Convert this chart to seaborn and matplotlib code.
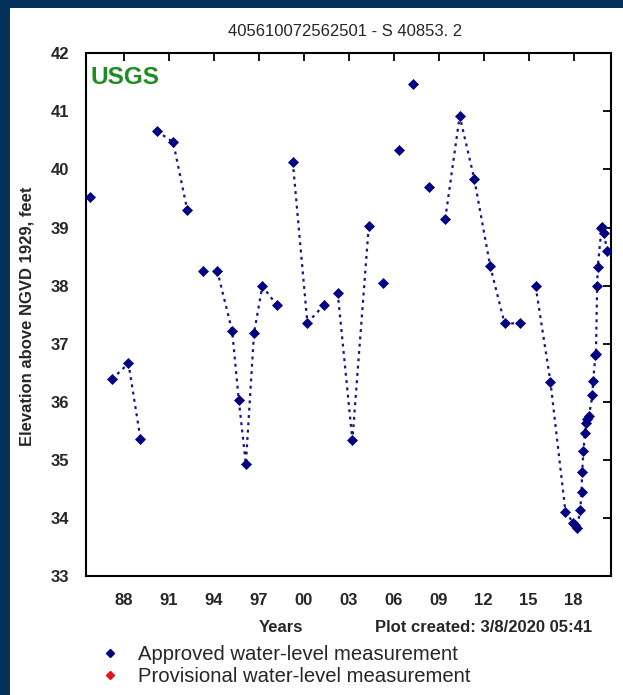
import pandas as pd
import matplotlib
matplotlib.use("Agg")
import matplotlib.pyplot as plt
from matplotlib.patches import Rectangle
from matplotlib.lines import Line2D
import seaborn as sns

# ------------------------------
# Data read off the hydrograph
# ------------------------------
years = [1985.74, 1987.23, 1988.33, 1989.13, 1990.22, 1991.31, 1992.24, 1993.31,
         1994.24, 1995.24, 1995.68, 1996.15, 1996.70, 1997.25, 1998.23,
         1999.28, 2000.25, 2001.34, 2002.27, 2003.25, 2004.34,
         2005.27, 2006.33, 2007.31, 2008.35,
         2009.44, 2010.40, 2011.37, 2012.43, 2013.39, 2014.43,
         2015.46, 2016.45, 2017.45, 2017.96, 2018.07, 2018.23, 2018.43, 2018.52,
         2018.56, 2018.65, 2018.74, 2018.83, 2018.90, 2019.02, 2019.25, 2019.29,
         2019.45, 2019.48, 2019.56, 2019.60, 2019.85, 2019.89, 2020.00, 2020.24]
levels = [39.53, 36.39, 36.66, 35.36, 40.66, 40.47, 39.31, 38.26,
          38.26, 37.22, 36.03, 34.93, 37.19, 37.99, 37.66,
          40.13, 37.36, 37.66, 37.88, 35.34, 39.02,
          38.04, 40.33, 41.47, 39.70,
          39.15, 40.92, 39.84, 38.34, 37.35, 37.35,
          37.99, 36.34, 34.10, 33.92, 33.88, 33.83, 34.13, 34.45,
          34.79, 35.16, 35.46, 35.64, 35.70, 35.76, 36.12, 36.36,
          36.80, 36.82, 37.99, 38.32, 38.99, 39.01, 38.90, 38.60]
# runs of measurements joined by the dotted line
segment = [0, 1, 1, 1, 2, 2, 2, 3,
           4, 4, 4, 4, 4, 4, 4,
           5, 5, 5, 6, 6, 6,
           7, 8, 9, 10,
           11, 11, 11, 11, 11, 11,
           12, 12, 12, 12, 12, 12, 12, 12,
           12, 12, 12, 12, 12, 12, 12, 12,
           12, 12, 12, 12, 12, 12, 12, 12]

tick_years = [1988, 1991, 1994, 1997, 2000, 2003, 2006, 2009, 2012, 2015, 2018]
tick_labels = ["88", "91", "94", "97", "00", "03", "06", "09", "12", "15", "18"]
y_ticks = [33, 34, 35, 36, 37, 38, 39, 40, 41, 42]

df = pd.DataFrame({"year": years, "level": levels, "segment": segment})

navy = "#000080"
line_col = "#14148f"

# ------------------------------
# Style
# ------------------------------
sns.set_style("white")
plt.rcParams["font.family"] = ["Liberation Sans", "DejaVu Sans"]

fig = plt.figure(figsize=(6.23, 6.95), dpi=100)
fig.patch.set_facecolor("#04305a")
fig.patches.append(Rectangle((10 / 623, 0), 1, 1 - 8 / 695, transform=fig.transFigure,
                             facecolor="white", edgecolor="none", zorder=-10))

ax = fig.add_axes([86 / 623, 1 - 576 / 695, 524.5 / 623, 522.7 / 695])
ax.set_zorder(2)
ax.set_facecolor("white")

sns.lineplot(data=df, x="year", y="level", units="segment", estimator=None, sort=False,
             color=line_col, linestyle=(0, (1.3, 2.0)), linewidth=1.6, ax=ax, legend=False)
sns.scatterplot(data=df, x="year", y="level", marker="D", s=26, color=navy,
                edgecolor=navy, linewidth=0.5, ax=ax, zorder=3, legend=False)

ax.set_xlim(1985.5, 2020.45)
ax.set_ylim(33, 42)
ax.set_xticks(tick_years)
ax.set_xticklabels(tick_labels)
ax.set_yticks(y_ticks)
ax.set_xlabel("")
ax.set_ylabel("")

for s in ax.spines.values():
    s.set_visible(True)
    s.set_color("black")
    s.set_linewidth(1.5)
ax.tick_params(axis="both", direction="in", length=6, width=1.3, color="black",
               top=True, right=True, labelsize=12)
ax.tick_params(axis="x", pad=12)
ax.tick_params(axis="y", pad=12)
for lab in ax.get_xticklabels() + ax.get_yticklabels():
    lab.set_fontweight("bold")

ax.text(0.009, 0.975, "USGS", transform=ax.transAxes, ha="left", va="top",
        fontsize=17.5, fontweight="bold", color="#1e8c1e")

# ------------------------------
# Texts around the plot
# ------------------------------
fig.text(345 / 623, 1 - 31 / 695, "405610072562501 - S 40853. 2", ha="center", va="center",
         fontsize=12)
fig.text(27 / 623, 1 - 316 / 695, "Elevation above NGVD 1929, feet", rotation=90,
         ha="center", va="center", fontsize=12, fontweight="bold")
fig.text(281 / 623, 1 - 627 / 695, "Years", ha="center", va="center",
         fontsize=12, fontweight="bold")
fig.text(375 / 623, 1 - 627 / 695, "Plot created: 3/8/2020 05:41", ha="left", va="center",
         fontsize=12, fontweight="bold")

handles = [Line2D([], [], marker="D", ls="", color=navy, ms=4),
           Line2D([], [], marker="D", ls="", color="#e8141c", ms=4)]
fig.legend(handles, ["Approved water-level measurement", "Provisional water-level measurement"],
           loc="upper left", bbox_to_anchor=(100 / 623, 1 - 645 / 695), frameon=False,
           fontsize=14.6, handlelength=1, handletextpad=0.88, labelspacing=0.17,
           borderpad=0, borderaxespad=0)

fig.savefig("out.png", dpi=100, facecolor=fig.get_facecolor())
